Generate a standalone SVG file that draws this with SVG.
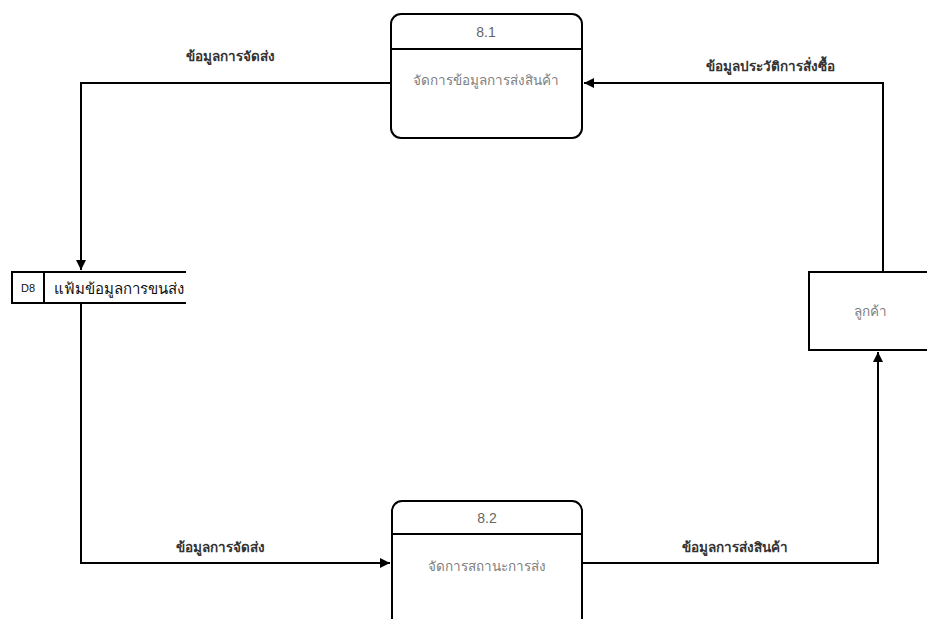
<svg xmlns="http://www.w3.org/2000/svg" width="927" height="619" viewBox="0 0 927 619">
<style>
.box{fill:#fff;stroke:#000;stroke-width:2}
.ln{fill:none;stroke:#000;stroke-width:2}
.pt{font-family:"Liberation Sans","Noto Sans",sans-serif;font-size:13.5px;fill:#808080;text-anchor:middle}
.num{font-family:"Liberation Sans","Noto Sans",sans-serif;font-size:14px;fill:#666;text-anchor:middle}
.lbl{font-family:"Liberation Sans","Noto Sans",sans-serif;font-size:13.5px;font-weight:bold;fill:#333;text-anchor:middle}
.ds{font-family:"Liberation Sans","Noto Sans",sans-serif;font-size:15px;fill:#111}
</style>
<defs>
<marker id="ar" viewBox="0 0 10 10" refX="10" refY="5" markerWidth="6" markerHeight="5" orient="auto" markerUnits="strokeWidth">
<path d="M0,0 L10,5 L0,10 z" fill="#000"/>
</marker>
</defs>
<rect width="927" height="619" fill="#fff"/>
<g id="connectors">
<path class="ln" d="M391,83 H81 V270" marker-end="url(#ar)"/>
<text class="lbl" x="230" y="61">ข้อมูลการจัดส่ง</text>
<path class="ln" d="M883,272 V83 H584" marker-end="url(#ar)"/>
<text class="lbl" x="770" y="71">ข้อมูลประวัติการสั่งซื้อ</text>
<path class="ln" d="M81,303 V563 H390" marker-end="url(#ar)"/>
<text class="lbl" x="220" y="552">ข้อมูลการจัดส่ง</text>
<path class="ln" d="M582,563 H878 V352" marker-end="url(#ar)"/>
<text class="lbl" x="735" y="552">ข้อมูลการส่งสินค้า</text>
</g>
<g id="p81">
<rect class="box" x="391" y="14" width="191" height="124" rx="10"/>
<line class="ln" x1="391" y1="49" x2="582" y2="49"/>
<text class="num" x="486" y="37">8.1</text>
<text class="pt" x="486" y="85">จัดการข้อมูลการส่งสินค้า</text>
</g>
<g id="p82">
<rect class="box" x="392" y="501" width="190" height="140" rx="10"/>
<line class="ln" x1="392" y1="534" x2="582" y2="534"/>
<text class="num" x="487" y="523">8.2</text>
<text class="pt" x="487" y="571">จัดการสถานะการส่ง</text>
</g>
<g id="d8">
<path class="ln" d="M186,272 H12 V303 H186 M44,272 V303"/>
<text class="ds" x="28" y="292" text-anchor="middle" style="font-size:11px">D8</text>
<text class="ds" x="54" y="294">แฟ้มข้อมูลการขนส่ง</text>
</g>
<g id="customer">
<rect class="box" x="809" y="272" width="130" height="78"/>
<text class="pt" x="870" y="316">ลูกค้า</text>
</g>
</svg>
